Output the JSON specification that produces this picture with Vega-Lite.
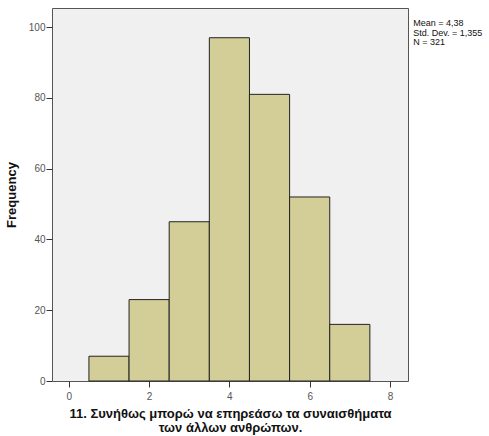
{
  "$schema": "https://vega.github.io/schema/vega-lite/v6.json",
  "autosize": "none",
  "width": 356,
  "height": 373,
  "padding": {"left": 52, "top": 8, "right": 81, "bottom": 55},
  "background": "white",
  "config": {
    "view": {"fill": "#f0f0f0", "stroke": "#555555", "strokeWidth": 1},
    "font": "Liberation Sans",
    "axis": {
      "domain": false,
      "grid": false,
      "tickColor": "#333333",
      "tickSize": 6,
      "labelColor": "#555555",
      "labelFontSize": 10,
      "labelFont": "Liberation Sans",
      "titleFont": "Liberation Sans",
      "titleFontWeight": "bold",
      "titleFontSize": 13,
      "titleColor": "#111111"
    }
  },
  "layer": [
    {
      "data": {
        "values": [
          {"bin_start": 0.5, "bin_end": 1.5, "count": 7},
          {"bin_start": 1.5, "bin_end": 2.5, "count": 23},
          {"bin_start": 2.5, "bin_end": 3.5, "count": 45},
          {"bin_start": 3.5, "bin_end": 4.5, "count": 97},
          {"bin_start": 4.5, "bin_end": 5.5, "count": 81},
          {"bin_start": 5.5, "bin_end": 6.5, "count": 52},
          {"bin_start": 6.5, "bin_end": 7.5, "count": 16}
        ]
      },
      "mark": {"type": "rect", "fill": "#d3ce98", "stroke": "#222222", "strokeWidth": 1},
      "encoding": {
        "x": {
          "field": "bin_start",
          "type": "quantitative",
          "scale": {"domain": [-0.42, 8.45], "nice": false, "zero": false},
          "axis": {
            "values": [0, 2, 4, 6, 8],
            "labelPadding": 4,
            "title": ["11. Συνήθως μπορώ να επηρεάσω τα συναισθήματα", "των άλλων ανθρώπων."],
            "titlePadding": 6,
            "titleLineHeight": 14
          }
        },
        "x2": {"field": "bin_end"},
        "y": {
          "field": "count",
          "type": "quantitative",
          "scale": {"domain": [0, 105.4], "nice": false},
          "axis": {
            "values": [0, 20, 40, 60, 80, 100],
            "labelPadding": 1,
            "title": "Frequency",
            "titlePadding": 10
          }
        },
        "y2": {"datum": 0}
      }
    },
    {
      "data": {"values": [{"label": ["Mean = 4,38", "Std. Dev. = 1,355", "N = 321"]}]},
      "mark": {"type": "text", "align": "left", "baseline": "top", "fontSize": 9, "fontWeight": "normal", "lineHeight": 9.5, "color": "#111111", "font": "Liberation Sans"},
      "encoding": {
        "x": {"datum": 8.58},
        "y": {"datum": 102.2},
        "text": {"field": "label"}
      }
    }
  ]
}
